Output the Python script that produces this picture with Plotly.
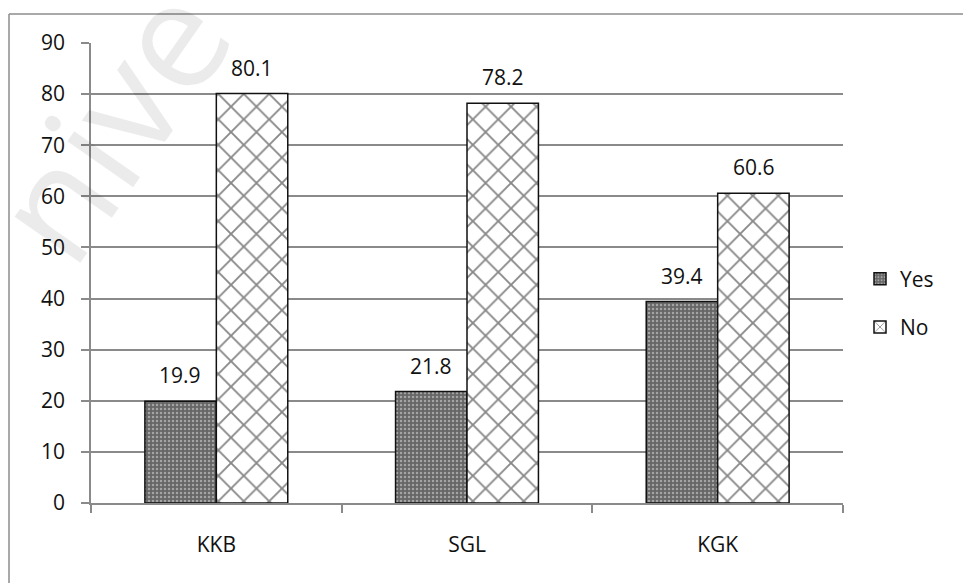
import plotly.graph_objects as go

# Survey responses by site (percent)
categories = ["KKB", "SGL", "KGK"]
yes_values = [19.9, 21.8, 39.4]
no_values = [80.1, 78.2, 60.6]
y_ticks = [0, 10, 20, 30, 40, 50, 60, 70, 80, 90]

FONT = "Open Sans"
GRID = "#8a8a8a"

fig = go.Figure()

fig.add_trace(go.Bar(
    name="Yes", x=categories, y=yes_values, legendgroup="yes",
    marker=dict(
        color="#666666",
        line=dict(color="#111111", width=1.5),
        pattern=dict(shape=".", bgcolor="#666666", fgcolor="#e2e2e2",
                     size=4, solidity=0.3),
    ),
))
fig.add_trace(go.Bar(
    name="No", x=categories, y=no_values, legendgroup="no",
    marker=dict(
        color="white",
        line=dict(color="#111111", width=1.5),
        pattern=dict(shape="x", bgcolor="white", fgcolor="#111111",
                     size=18, solidity=0.2),
    ),
))

# value labels above each bar
for vals, shift in ((yes_values, -36), (no_values, 36)):
    for cat, v in zip(categories, vals):
        fig.add_annotation(
            x=cat, y=v, text=f"{v:.1f}", showarrow=False,
            xshift=shift, yshift=10, yanchor="bottom",
            font=dict(family=FONT, size=21, color="#111111"),
        )

# faint diagonal watermark
fig.add_annotation(
    xref="paper", yref="paper", x=(108 - 91) / 752, y=1 + (43 - 122) / 460,
    text="nive", showarrow=False, textangle=-55,
    font=dict(family=FONT, size=150, color="rgba(0,0,0,0.08)"),
    xanchor="center", yanchor="middle",
)

# outer chart frame (left and top edges)
L, T, W, H = 91, 43, 752, 460
def px(x):
    return (x - L) / W
def py(y):
    return 1 - (y - T) / H
fig.add_shape(type="line", xref="paper", yref="paper",
              x0=px(9), x1=px(9), y0=py(14), y1=py(590),
              line=dict(color="#8c8c8c", width=1.5))
fig.add_shape(type="line", xref="paper", yref="paper",
              x0=px(9), x1=px(970), y0=py(14), y1=py(14),
              line=dict(color="#8c8c8c", width=1.5))

fig.update_layout(
    width=963, height=583,
    margin=dict(l=L, r=963 - L - W, t=T, b=583 - T - H),
    paper_bgcolor="white", plot_bgcolor="white",
    barmode="group", bargap=0.43, bargroupgap=0,
    font=dict(family=FONT, size=21, color="#111111"),
    showlegend=True,
    legend=dict(
        x=px(860), y=py(303), xanchor="left", yanchor="middle",
        font=dict(family=FONT, size=21, color="#111111"),
        tracegroupgap=18, itemwidth=30, bgcolor="rgba(0,0,0,0)",
    ),
    xaxis=dict(
        showgrid=False, showline=True, linecolor=GRID, linewidth=1.5,
        ticks="outside", ticklen=8, tickcolor=GRID, tickwidth=1.5,
        tickson="boundaries", ticklabelstandoff=22,
        tickfont=dict(family=FONT, size=21, color="#111111"),
    ),
    yaxis=dict(
        range=[0, 90], tickvals=y_ticks, showgrid=True, gridcolor=GRID,
        gridwidth=1.5, showline=True, linecolor=GRID, linewidth=1.5,
        ticks="outside", ticklen=8, tickcolor=GRID, tickwidth=1.5,
        ticklabelstandoff=12, zeroline=False,
        tickfont=dict(family=FONT, size=21, color="#111111"),
    ),
)

fig.write_html("out.html")
